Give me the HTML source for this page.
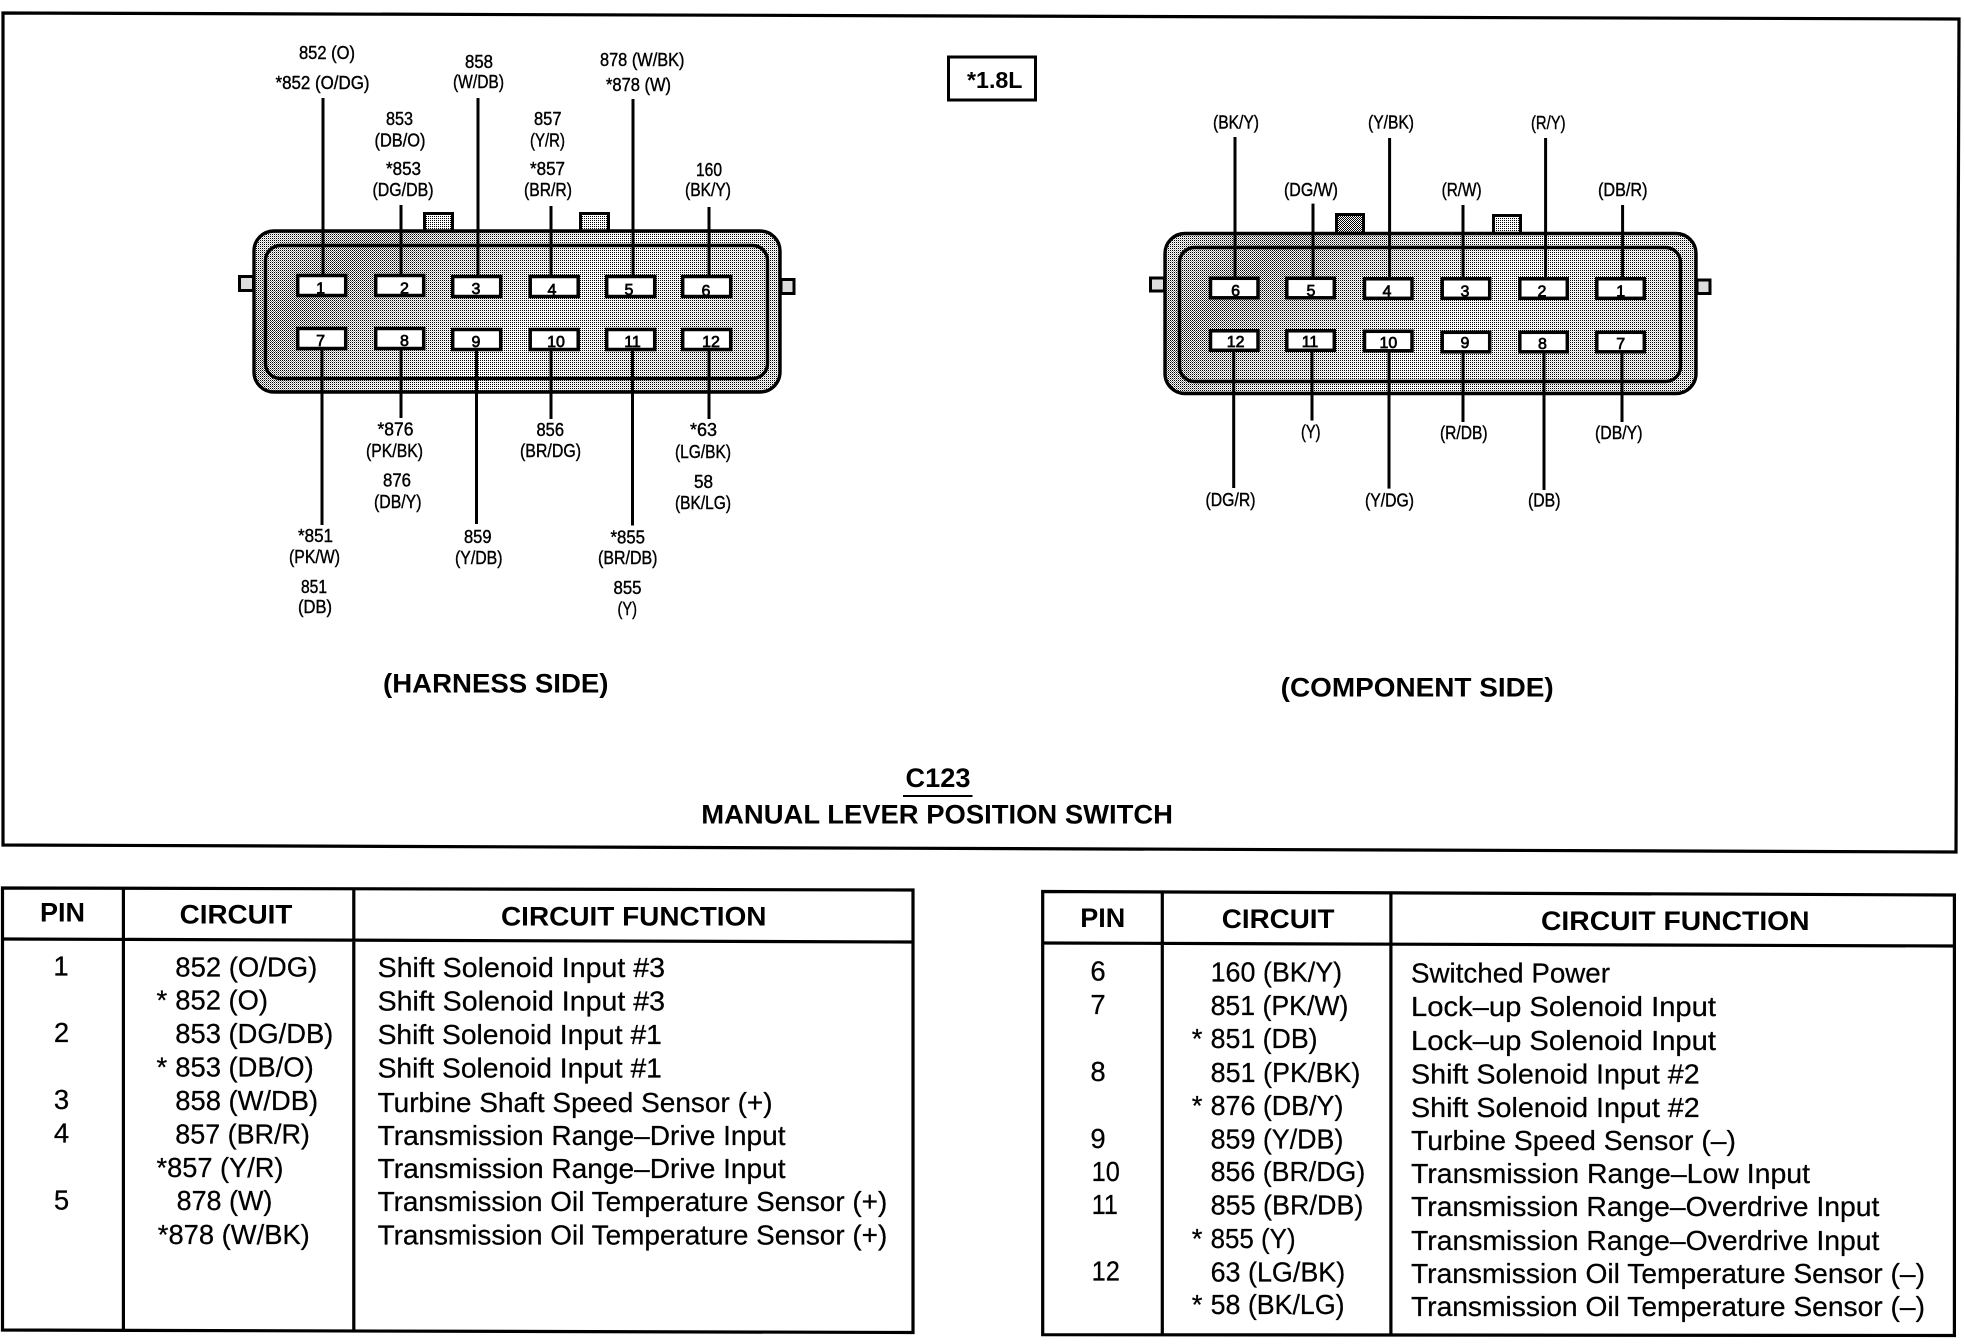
<!DOCTYPE html>
<html lang="en"><head><meta charset="utf-8"><title>C123 Manual Lever Position Switch</title>
<style>
html,body{margin:0;padding:0;background:#fff;width:1964px;height:1344px;overflow:hidden}
svg{display:block}
text{font-family:"Liberation Sans",Arial,sans-serif;fill:#000}
.l{font-size:18px;stroke:#000;stroke-width:.4}
.n{font-size:16px;text-anchor:middle;stroke:#000;stroke-width:.7}
.b{font-weight:bold}
.h{font-size:27px;font-weight:bold}
.g{font-size:26.500px;font-weight:bold}
.t{font-size:27.500px;stroke:#000;stroke-width:.25}
.p{fill:#fff;stroke:#000;stroke-width:3.5}
.w{stroke:#000;stroke-width:3;fill:none}
.f{fill:none;stroke:#000;stroke-width:3.2}
</style></head><body>
<svg width="1964" height="1344" viewBox="0 0 1964 1344" xmlns="http://www.w3.org/2000/svg">
<defs>
<pattern id="lt" width="2" height="2" patternUnits="userSpaceOnUse"><rect width="2" height="2" fill="#fff"/><rect width="1" height="1" fill="#000"/></pattern>
<pattern id="dk" width="2" height="2" patternUnits="userSpaceOnUse"><rect width="2" height="2" fill="#fff"/><rect width="1" height="1" fill="#000"/><rect x="1" y="1" width="1" height="1" fill="#000"/></pattern>
<linearGradient id="gr" x1="0" x2="1" y1="0" y2="0.35">
<stop offset="0" stop-color="#222"/><stop offset=".22" stop-color="#bbb"/><stop offset=".4" stop-color="#444"/><stop offset=".65" stop-color="#000"/><stop offset="1" stop-color="#333"/></linearGradient>
<mask id="mk" maskContentUnits="objectBoundingBox"><rect width="1" height="1" fill="url(#gr)"/></mask>
</defs>
<rect width="1964" height="1344" fill="#fff"/>

<!-- main frame -->
<polygon class="f" points="3,13 1959,19 1956,852 3,845"/>

<!-- harness connector -->
<g>
<rect x="424.5" y="213.5" width="28" height="22" fill="url(#lt)" stroke="#000" stroke-width="3"/>
<rect x="580.5" y="213.5" width="28" height="22" fill="url(#lt)" stroke="#000" stroke-width="3"/>
<rect x="239.5" y="276.5" width="14" height="14" fill="#ddd" stroke="#000" stroke-width="3"/>
<rect x="781" y="279.5" width="13" height="14" fill="#ddd" stroke="#000" stroke-width="3"/>
<rect x="254" y="231" width="526" height="161" rx="20" fill="url(#lt)"/>
<rect x="254" y="231" width="526" height="161" rx="20" fill="url(#dk)" mask="url(#mk)"/>
<rect x="254" y="231" width="526" height="161" rx="20" fill="none" stroke="#000" stroke-width="3.4"/>
<rect x="265.5" y="245.5" width="502" height="133" rx="15" fill="none" stroke="#000" stroke-width="3.4"/>
<rect class="p" x="297.7" y="275.5" width="48" height="20"/><rect class="p" x="375.7" y="275.5" width="48" height="20"/><rect class="p" x="452.7" y="276.5" width="48" height="20"/><rect class="p" x="530.2" y="276.5" width="48" height="20"/><rect class="p" x="606.7" y="276.5" width="48" height="20"/><rect class="p" x="682.7" y="276.5" width="48" height="20"/>
<rect class="p" x="297.7" y="328.5" width="48" height="20"/><rect class="p" x="375.7" y="328.5" width="48" height="20"/><rect class="p" x="452.7" y="329.5" width="48" height="20"/><rect class="p" x="530.2" y="329.5" width="48" height="20"/><rect class="p" x="606.7" y="329.5" width="48" height="20"/><rect class="p" x="682.7" y="329.5" width="48" height="20"/>
<path class="w" d="M323 98V274M401 205V274M478 98V275M551 206V275M633 99V275M709 207V275M322 349V525M401 349V418M476.500 350V524M551 350V419M632.500 350V525.500M709 350V419"/>
<text class="n" x="320.600" y="293.600">1</text><text class="n" x="404.500" y="293.600">2</text><text class="n" x="476" y="294">3</text><text class="n" x="552" y="295">4</text><text class="n" x="629" y="295">5</text><text class="n" x="706" y="296">6</text>
<text class="n" x="320.600" y="346">7</text><text class="n" x="404.500" y="346">8</text><text class="n" x="476" y="347">9</text><text class="n" x="556" y="347">10</text><text class="n" x="632.500" y="347">11</text><text class="n" x="711" y="347">12</text>
</g>
<text class="l" x="299" y="59" textLength="56" lengthAdjust="spacingAndGlyphs">852 (O)</text>
<text class="l" x="275.500" y="89" textLength="94" lengthAdjust="spacingAndGlyphs">*852 (O/DG)</text>
<text class="l" x="465" y="68" textLength="28" lengthAdjust="spacingAndGlyphs">858</text>
<text class="l" x="453" y="88" textLength="51" lengthAdjust="spacingAndGlyphs">(W/DB)</text>
<text class="l" x="600" y="66" textLength="84.500" lengthAdjust="spacingAndGlyphs">878 (W/BK)</text>
<text class="l" x="606" y="91" textLength="65" lengthAdjust="spacingAndGlyphs">*878 (W)</text>
<text class="l" x="386" y="125" textLength="27" lengthAdjust="spacingAndGlyphs">853</text>
<text class="l" x="374.500" y="146.500" textLength="51" lengthAdjust="spacingAndGlyphs">(DB/O)</text>
<text class="l" x="386" y="175" textLength="35" lengthAdjust="spacingAndGlyphs">*853</text>
<text class="l" x="372.500" y="196" textLength="61" lengthAdjust="spacingAndGlyphs">(DG/DB)</text>
<text class="l" x="534" y="125" textLength="27.500" lengthAdjust="spacingAndGlyphs">857</text>
<text class="l" x="530" y="146.500" textLength="35" lengthAdjust="spacingAndGlyphs">(Y/R)</text>
<text class="l" x="530" y="175" textLength="35" lengthAdjust="spacingAndGlyphs">*857</text>
<text class="l" x="524" y="196" textLength="48" lengthAdjust="spacingAndGlyphs">(BR/R)</text>
<text class="l" x="696" y="176" textLength="26" lengthAdjust="spacingAndGlyphs">160</text>
<text class="l" x="685" y="196" textLength="46" lengthAdjust="spacingAndGlyphs">(BK/Y)</text>
<text class="l" x="377.500" y="435.500" textLength="36" lengthAdjust="spacingAndGlyphs">*876</text>
<text class="l" x="366" y="457" textLength="57" lengthAdjust="spacingAndGlyphs">(PK/BK)</text>
<text class="l" x="383" y="486.500" textLength="28" lengthAdjust="spacingAndGlyphs">876</text>
<text class="l" x="374" y="508" textLength="47.500" lengthAdjust="spacingAndGlyphs">(DB/Y)</text>
<text class="l" x="536.500" y="436" textLength="27.500" lengthAdjust="spacingAndGlyphs">856</text>
<text class="l" x="520" y="457" textLength="61" lengthAdjust="spacingAndGlyphs">(BR/DG)</text>
<text class="l" x="690" y="436" textLength="27" lengthAdjust="spacingAndGlyphs">*63</text>
<text class="l" x="675" y="458" textLength="56" lengthAdjust="spacingAndGlyphs">(LG/BK)</text>
<text class="l" x="694" y="488" textLength="19" lengthAdjust="spacingAndGlyphs">58</text>
<text class="l" x="675" y="509" textLength="56" lengthAdjust="spacingAndGlyphs">(BK/LG)</text>
<text class="l" x="298" y="542" textLength="35" lengthAdjust="spacingAndGlyphs">*851</text>
<text class="l" x="289" y="563" textLength="51" lengthAdjust="spacingAndGlyphs">(PK/W)</text>
<text class="l" x="301" y="593" textLength="26" lengthAdjust="spacingAndGlyphs">851</text>
<text class="l" x="298" y="613" textLength="34" lengthAdjust="spacingAndGlyphs">(DB)</text>
<text class="l" x="464" y="543" textLength="27.500" lengthAdjust="spacingAndGlyphs">859</text>
<text class="l" x="455" y="564" textLength="47.500" lengthAdjust="spacingAndGlyphs">(Y/DB)</text>
<text class="l" x="610.500" y="543.500" textLength="34.500" lengthAdjust="spacingAndGlyphs">*855</text>
<text class="l" x="598" y="564" textLength="59.500" lengthAdjust="spacingAndGlyphs">(BR/DB)</text>
<text class="l" x="613.500" y="594" textLength="28" lengthAdjust="spacingAndGlyphs">855</text>
<text class="l" x="617.500" y="615" textLength="19.500" lengthAdjust="spacingAndGlyphs">(Y)</text>

<!-- 1.8L box -->
<rect x="948.500" y="57" width="87" height="43" fill="#fff" stroke="#000" stroke-width="3"/>
<text class="b" font-size="23" x="967" y="88" textLength="55.500" lengthAdjust="spacingAndGlyphs">*1.8L</text>

<!-- component connector -->
<g>
<rect x="1336.500" y="214.500" width="27" height="20" fill="url(#dk)" stroke="#000" stroke-width="3"/>
<rect x="1493.500" y="215.500" width="27" height="20" fill="url(#lt)" stroke="#000" stroke-width="3"/>
<rect x="1150.500" y="278" width="14" height="13" fill="#ddd" stroke="#000" stroke-width="3"/>
<rect x="1697" y="280" width="13" height="13.500" fill="#ddd" stroke="#000" stroke-width="3"/>
<rect x="1165" y="233.500" width="531" height="160" rx="20" fill="url(#lt)"/>
<rect x="1165" y="233.500" width="531" height="160" rx="20" fill="url(#dk)" mask="url(#mk)"/>
<rect x="1165" y="233.500" width="531" height="160" rx="20" fill="none" stroke="#000" stroke-width="3.400"/>
<rect x="1179.500" y="247.500" width="501" height="134" rx="15" fill="none" stroke="#000" stroke-width="3.400"/>
<rect class="p" x="1210.500" y="278.300" width="47.500" height="19.500"/><rect class="p" x="1286.800" y="278.300" width="47.500" height="19.500"/><rect class="p" x="1364.500" y="278.800" width="47.500" height="19.500"/><rect class="p" x="1442.200" y="278.800" width="47.500" height="19.500"/><rect class="p" x="1519.800" y="278.800" width="47.500" height="19.500"/><rect class="p" x="1596.800" y="278.800" width="47.500" height="19.500"/>
<rect class="p" x="1210.500" y="330.800" width="47.500" height="19.500"/><rect class="p" x="1286.800" y="330.800" width="47.500" height="19.500"/><rect class="p" x="1364.500" y="331.300" width="47.500" height="19.500"/><rect class="p" x="1442.200" y="332.300" width="47.500" height="19.500"/><rect class="p" x="1519.800" y="332.300" width="47.500" height="19.500"/><rect class="p" x="1596.800" y="332.300" width="47.500" height="19.500"/>
<path class="w" d="M1235 137V277M1313 203.600V277M1389.600 138V277M1463 205V277M1545.600 138V277M1622.600 205V277M1233.700 351V488M1312 351V420.500M1389 352V488.600M1463 353V422M1544 353V490M1622 353V422"/>
<text class="n" x="1235.600" y="296">6</text><text class="n" x="1311" y="296">5</text><text class="n" x="1387" y="296.600">4</text><text class="n" x="1465" y="296.600">3</text><text class="n" x="1542" y="296.600">2</text><text class="n" x="1620.700" y="296.600">1</text>
<text class="n" x="1235.600" y="347">12</text><text class="n" x="1310" y="347">11</text><text class="n" x="1388.400" y="348">10</text><text class="n" x="1465" y="348">9</text><text class="n" x="1542.400" y="349">8</text><text class="n" x="1620.700" y="349">7</text>
</g>
<text class="l" x="1213" y="128.600" textLength="46" lengthAdjust="spacingAndGlyphs">(BK/Y)</text>
<text class="l" x="1368" y="128.600" textLength="46" lengthAdjust="spacingAndGlyphs">(Y/BK)</text>
<text class="l" x="1531" y="129" textLength="34.500" lengthAdjust="spacingAndGlyphs">(R/Y)</text>
<text class="l" x="1284" y="196" textLength="54" lengthAdjust="spacingAndGlyphs">(DG/W)</text>
<text class="l" x="1441.600" y="196" textLength="40" lengthAdjust="spacingAndGlyphs">(R/W)</text>
<text class="l" x="1598" y="196" textLength="49.500" lengthAdjust="spacingAndGlyphs">(DB/R)</text>
<text class="l" x="1301" y="438" textLength="19.500" lengthAdjust="spacingAndGlyphs">(Y)</text>
<text class="l" x="1440" y="439" textLength="47.500" lengthAdjust="spacingAndGlyphs">(R/DB)</text>
<text class="l" x="1595" y="439" textLength="47.500" lengthAdjust="spacingAndGlyphs">(DB/Y)</text>
<text class="l" x="1205.500" y="506" textLength="50" lengthAdjust="spacingAndGlyphs">(DG/R)</text>
<text class="l" x="1365" y="506.600" textLength="49" lengthAdjust="spacingAndGlyphs">(Y/DG)</text>
<text class="l" x="1528" y="506.600" textLength="32.500" lengthAdjust="spacingAndGlyphs">(DB)</text>

<!-- titles -->
<text class="g" x="383" y="692.600" textLength="225.500" lengthAdjust="spacingAndGlyphs">(HARNESS SIDE)</text>
<text class="g" x="1280.700" y="696.600" textLength="273" lengthAdjust="spacingAndGlyphs">(COMPONENT SIDE)</text>
<text class="g" x="905.500" y="787" textLength="65" lengthAdjust="spacingAndGlyphs">C123</text>
<rect x="903" y="795" width="69.500" height="2" fill="#000"/>
<text class="g" x="701.300" y="823.500" textLength="471.700" lengthAdjust="spacingAndGlyphs">MANUAL LEVER POSITION SWITCH</text>

<!-- table 1 -->
<polygon class="f" points="2.500,888 913,890 913,1332.500 2.500,1330"/>
<path class="f" d="M123.400 888V1331M353.800 889V1332M2.500 939L913 942"/>
<text class="h" x="40" y="921.500" textLength="45" lengthAdjust="spacingAndGlyphs">PIN</text>
<text class="h" x="179.700" y="923.600" textLength="112.700" lengthAdjust="spacingAndGlyphs">CIRCUIT</text>
<text class="h" x="501" y="925.700" textLength="265.500" lengthAdjust="spacingAndGlyphs">CIRCUIT FUNCTION</text>
<text class="t" x="61" y="975.500" text-anchor="middle">1</text><text class="t" x="61.500" y="1042" text-anchor="middle">2</text><text class="t" x="61.500" y="1109" text-anchor="middle">3</text><text class="t" x="61.500" y="1142.600" text-anchor="middle">4</text><text class="t" x="61.500" y="1209.500" text-anchor="middle">5</text>
<text class="t" x="175.300" y="976.300" textLength="142" lengthAdjust="spacingAndGlyphs">852 (O/DG)</text>
<text class="t" x="156.500" y="1009.700">*</text><text class="t" x="175.300" y="1009.700" textLength="92.700" lengthAdjust="spacingAndGlyphs">852 (O)</text>
<text class="t" x="175.300" y="1043" textLength="158" lengthAdjust="spacingAndGlyphs">853 (DG/DB)</text>
<text class="t" x="156.500" y="1076.600">*</text><text class="t" x="175.300" y="1076.600" textLength="138.400" lengthAdjust="spacingAndGlyphs">853 (DB/O)</text>
<text class="t" x="175.300" y="1110" textLength="142.800" lengthAdjust="spacingAndGlyphs">858 (W/DB)</text>
<text class="t" x="175.300" y="1143.500" textLength="134.600" lengthAdjust="spacingAndGlyphs">857 (BR/R)</text>
<text class="t" x="156.500" y="1177" textLength="127" lengthAdjust="spacingAndGlyphs">*857 (Y/R)</text>
<text class="t" x="176.600" y="1210" textLength="95.800" lengthAdjust="spacingAndGlyphs">878 (W)</text>
<text class="t" x="157.800" y="1244" textLength="152" lengthAdjust="spacingAndGlyphs">*878 (W/BK)</text>
<text class="t" x="377.600" y="977.200" textLength="287.400" lengthAdjust="spacingAndGlyphs">Shift Solenoid Input #3</text>
<text class="t" x="377.600" y="1010.600" textLength="287.400" lengthAdjust="spacingAndGlyphs">Shift Solenoid Input #3</text>
<text class="t" x="377.600" y="1044" textLength="284.300" lengthAdjust="spacingAndGlyphs">Shift Solenoid Input #1</text>
<text class="t" x="377.600" y="1077.500" textLength="284.300" lengthAdjust="spacingAndGlyphs">Shift Solenoid Input #1</text>
<text class="t" x="377.600" y="1111.800" textLength="395" lengthAdjust="spacingAndGlyphs">Turbine Shaft Speed Sensor (+)</text>
<text class="t" x="377.600" y="1145" textLength="408" lengthAdjust="spacingAndGlyphs">Transmission Range–Drive Input</text>
<text class="t" x="377.600" y="1177.800" textLength="408" lengthAdjust="spacingAndGlyphs">Transmission Range–Drive Input</text>
<text class="t" x="377.600" y="1211" textLength="509.700" lengthAdjust="spacingAndGlyphs">Transmission Oil Temperature Sensor (+)</text>
<text class="t" x="377.600" y="1244.600" textLength="509.700" lengthAdjust="spacingAndGlyphs">Transmission Oil Temperature Sensor (+)</text>

<!-- table 2 -->
<polygon class="f" points="1042.700,891.500 1954.400,895 1954.400,1335.500 1042.700,1334.700"/>
<path class="f" d="M1162.300 892V1335M1390.900 893V1335M1042.700 943L1954.400 946"/>
<text class="h" x="1080.300" y="927" textLength="45" lengthAdjust="spacingAndGlyphs">PIN</text>
<text class="h" x="1221.800" y="928" textLength="112.700" lengthAdjust="spacingAndGlyphs">CIRCUIT</text>
<text class="h" x="1541" y="930" textLength="268.600" lengthAdjust="spacingAndGlyphs">CIRCUIT FUNCTION</text>
<text class="t" x="1098" y="980.600" text-anchor="middle">6</text><text class="t" x="1098" y="1014" text-anchor="middle">7</text><text class="t" x="1098" y="1081" text-anchor="middle">8</text><text class="t" x="1098" y="1147.800" text-anchor="middle">9</text>
<text class="t" x="1091.600" y="1181" textLength="28.200" lengthAdjust="spacingAndGlyphs">10</text><text class="t" x="1091.600" y="1214" textLength="26.300" lengthAdjust="spacingAndGlyphs">11</text><text class="t" x="1091.600" y="1280.600" textLength="28.200" lengthAdjust="spacingAndGlyphs">12</text>
<text class="t" x="1210.600" y="981.500" textLength="131.500" lengthAdjust="spacingAndGlyphs">160 (BK/Y)</text>
<text class="t" x="1210.600" y="1015" textLength="137.800" lengthAdjust="spacingAndGlyphs">851 (PK/W)</text>
<text class="t" x="1191.800" y="1048">*</text><text class="t" x="1210.600" y="1048" textLength="107" lengthAdjust="spacingAndGlyphs">851 (DB)</text>
<text class="t" x="1210.600" y="1082" textLength="149.700" lengthAdjust="spacingAndGlyphs">851 (PK/BK)</text>
<text class="t" x="1191.800" y="1115">*</text><text class="t" x="1210.600" y="1115" textLength="132.800" lengthAdjust="spacingAndGlyphs">876 (DB/Y)</text>
<text class="t" x="1210.600" y="1148.700" textLength="132.800" lengthAdjust="spacingAndGlyphs">859 (Y/DB)</text>
<text class="t" x="1210.600" y="1181" textLength="154.700" lengthAdjust="spacingAndGlyphs">856 (BR/DG)</text>
<text class="t" x="1210.600" y="1214.600" textLength="152.800" lengthAdjust="spacingAndGlyphs">855 (BR/DB)</text>
<text class="t" x="1191.800" y="1248">*</text><text class="t" x="1210.600" y="1248" textLength="85" lengthAdjust="spacingAndGlyphs">855 (Y)</text>
<text class="t" x="1210.600" y="1281.500" textLength="134.600" lengthAdjust="spacingAndGlyphs">63 (LG/BK)</text>
<text class="t" x="1191.800" y="1314">*</text><text class="t" x="1210.600" y="1314" textLength="134" lengthAdjust="spacingAndGlyphs">58 (BK/LG)</text>
<text class="t" x="1411" y="982.300" textLength="199" lengthAdjust="spacingAndGlyphs">Switched Power</text>
<text class="t" x="1411" y="1016" textLength="305" lengthAdjust="spacingAndGlyphs">Lock–up Solenoid Input</text>
<text class="t" x="1411" y="1050" textLength="305" lengthAdjust="spacingAndGlyphs">Lock–up Solenoid Input</text>
<text class="t" x="1411" y="1083.500" textLength="288.700" lengthAdjust="spacingAndGlyphs">Shift Solenoid Input #2</text>
<text class="t" x="1411" y="1117" textLength="288.700" lengthAdjust="spacingAndGlyphs">Shift Solenoid Input #2</text>
<text class="t" x="1411" y="1150" textLength="325" lengthAdjust="spacingAndGlyphs">Turbine Speed Sensor (–)</text>
<text class="t" x="1411" y="1183" textLength="399" lengthAdjust="spacingAndGlyphs">Transmission Range–Low Input</text>
<text class="t" x="1411" y="1216" textLength="468.400" lengthAdjust="spacingAndGlyphs">Transmission Range–Overdrive Input</text>
<text class="t" x="1411" y="1250" textLength="468.400" lengthAdjust="spacingAndGlyphs">Transmission Range–Overdrive Input</text>
<text class="t" x="1411" y="1283" textLength="514" lengthAdjust="spacingAndGlyphs">Transmission Oil Temperature Sensor (–)</text>
<text class="t" x="1411" y="1316" textLength="514" lengthAdjust="spacingAndGlyphs">Transmission Oil Temperature Sensor (–)</text>
</svg>
</body></html>
